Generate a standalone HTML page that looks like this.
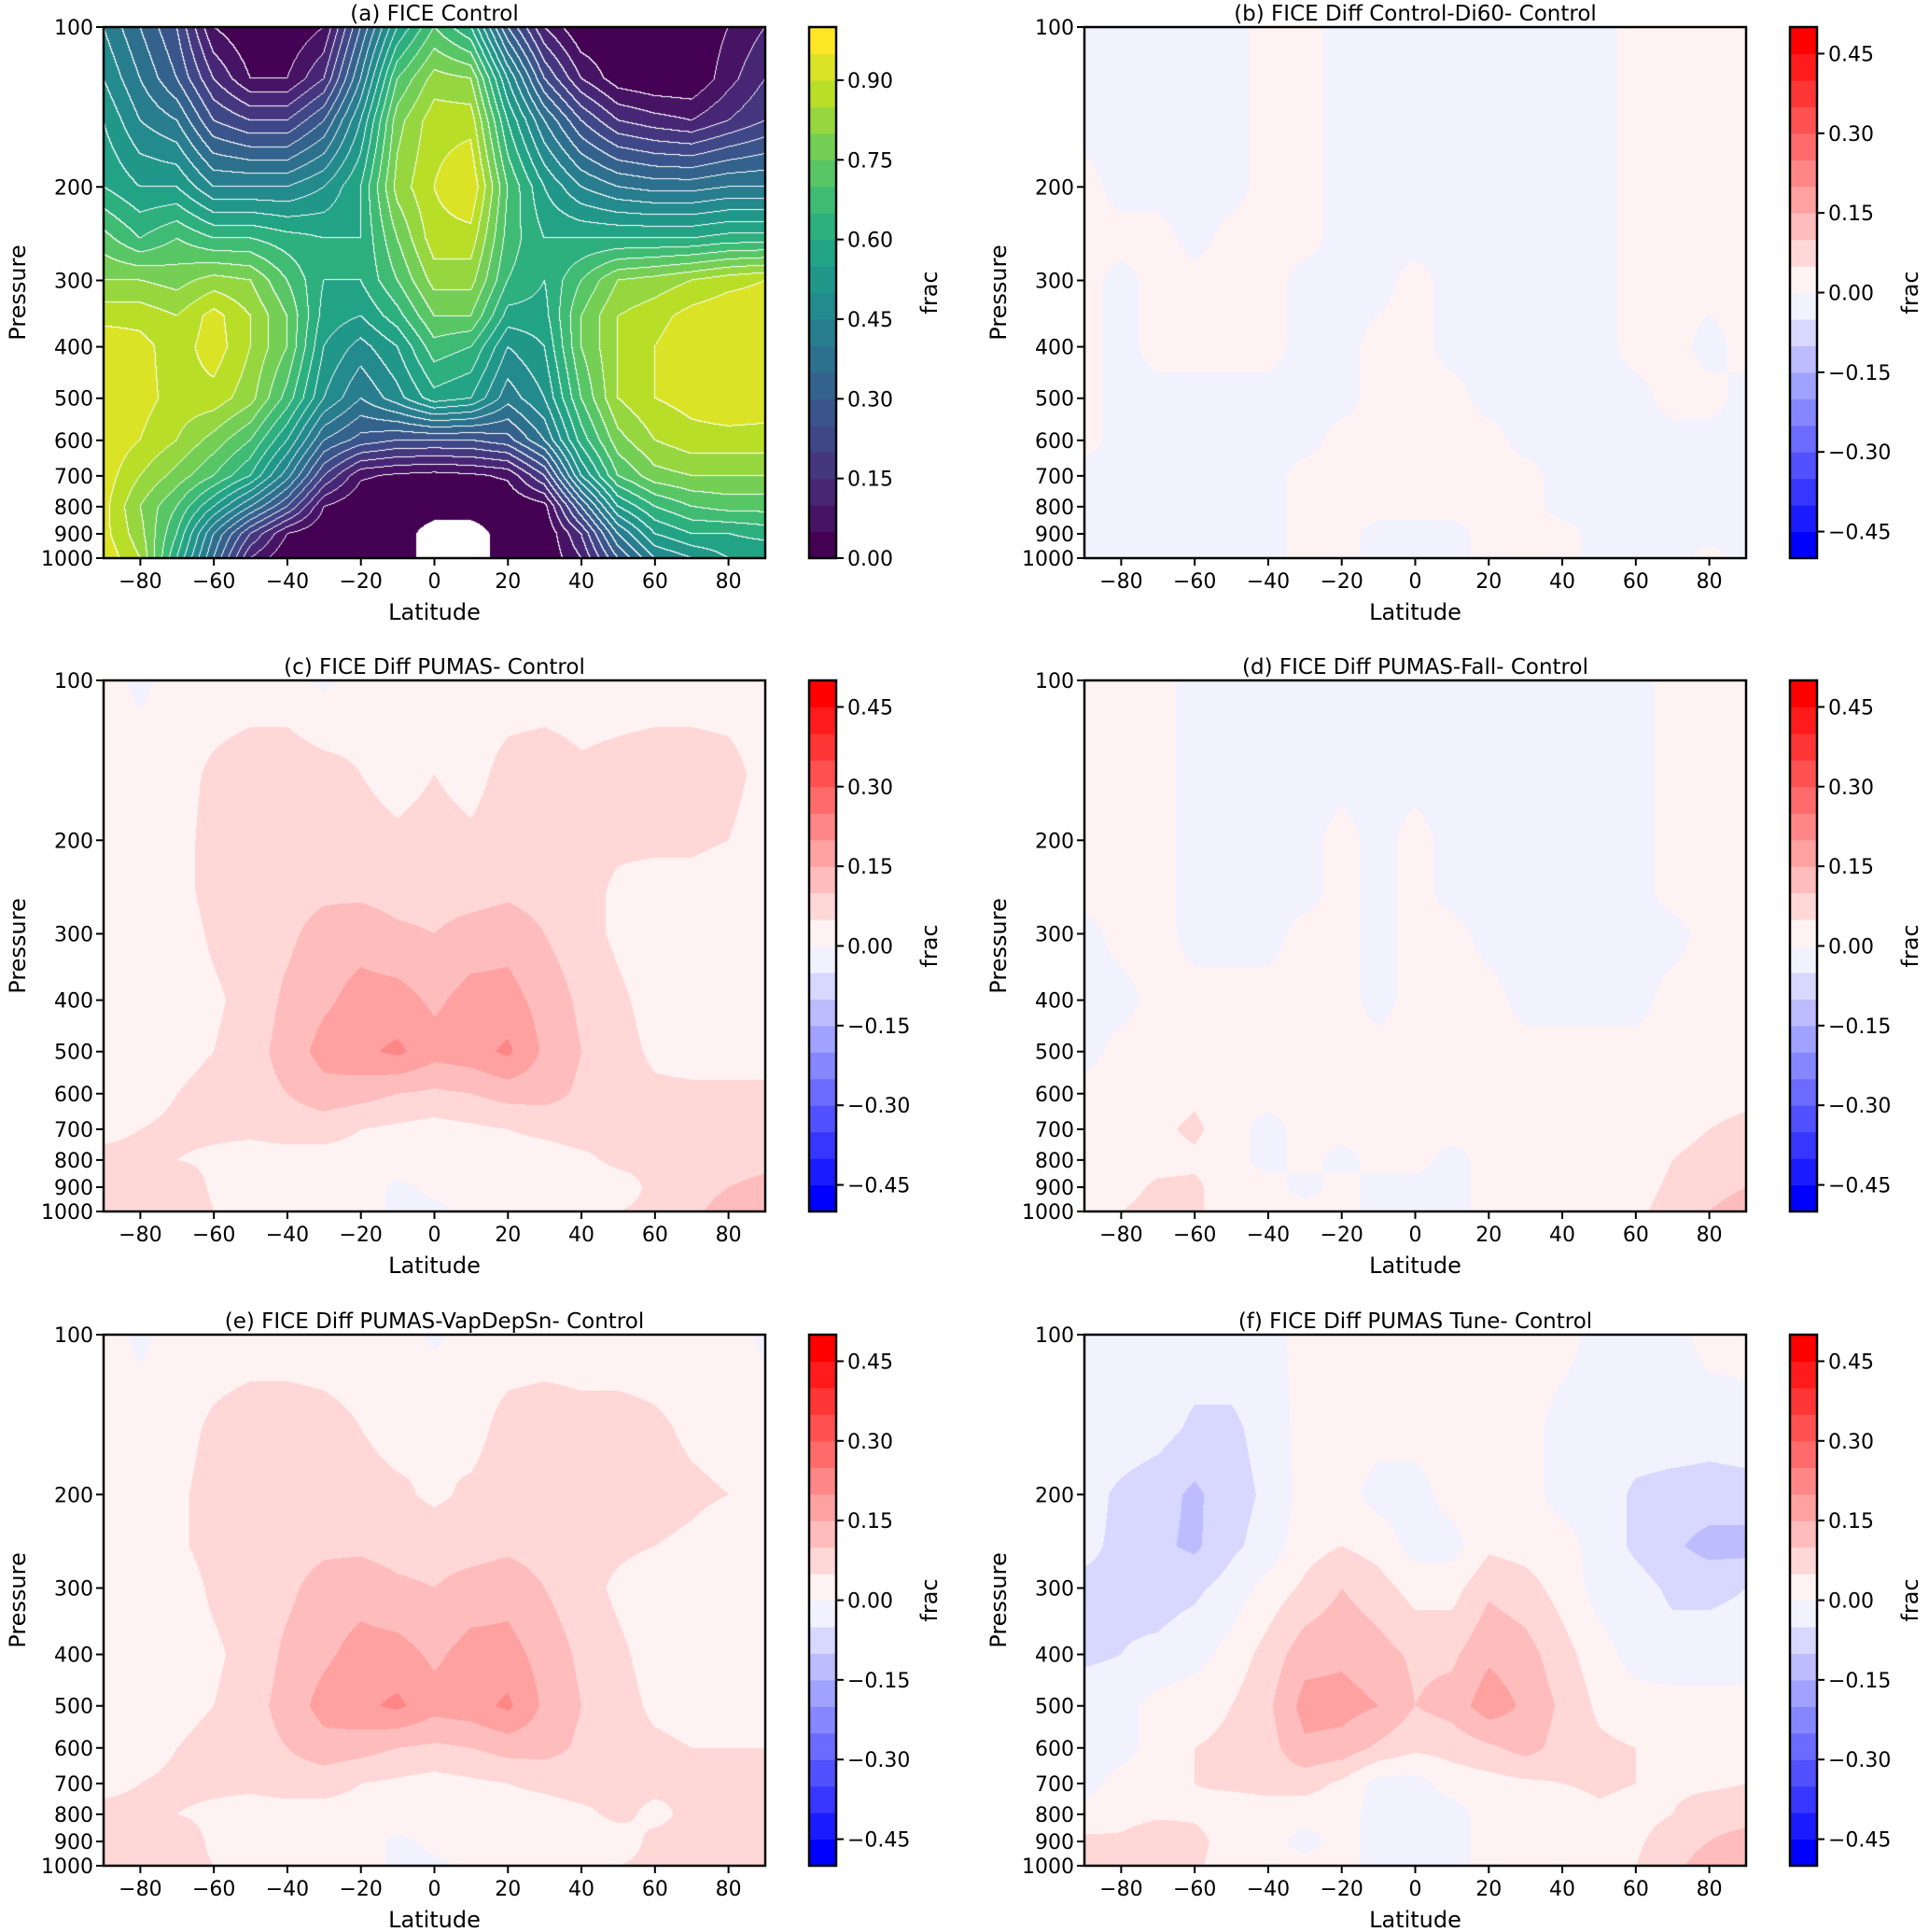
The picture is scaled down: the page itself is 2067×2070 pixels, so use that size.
<!DOCTYPE html>
<html><head><meta charset="utf-8">
<style>
body{margin:0;background:#fff;}
#fig{position:relative;width:2067px;height:2070px;overflow:hidden;background:#fff;font-family:"DejaVu Sans","Liberation Sans",sans-serif;}
canvas{position:absolute;}
svg{position:absolute;left:0;top:0;}
</style></head>
<body>
<div id="fig">
<svg id="ov" width="2067" height="2070"></svg>
</div>
<script>
// ---------- DATA ----------
const lats=[-90,-80,-70,-60,-50,-40,-30,-20,-10,0,10,20,30,40,50,60,70,80,90];
const aP=[100,125,150,200,250,300,350,400,500,600,700,800,900,1000];
const aVals=[
[.45,.35,.25,.05,0,0,.05,.3,.55,.7,.6,.3,.1,0,0,0,0,.05,.1],
[.5,.4,.3,.15,.05,.05,.15,.4,.7,.82,.8,.5,.25,.1,.02,0,0,.08,.15],
[.55,.45,.4,.25,.2,.2,.3,.5,.78,.88,.88,.6,.4,.25,.15,.12,.1,.15,.2],
[.6,.55,.55,.45,.45,.45,.5,.6,.82,.9,.95,.7,.55,.45,.4,.38,.38,.4,.4],
[.72,.65,.7,.65,.65,.62,.6,.6,.75,.88,.88,.68,.6,.6,.6,.6,.6,.62,.62],
[.8,.8,.78,.82,.8,.7,.6,.6,.7,.82,.82,.65,.6,.7,.8,.82,.85,.88,.9],
[.88,.88,.85,.92,.85,.75,.58,.55,.63,.75,.75,.58,.58,.75,.85,.88,.92,.94,.94],
[.94,.92,.87,.93,.85,.75,.55,.48,.55,.68,.65,.5,.55,.75,.85,.9,.94,.94,.94],
[.94,.92,.88,.88,.82,.68,.5,.4,.48,.58,.55,.42,.5,.7,.85,.9,.92,.94,.93],
[.94,.9,.85,.78,.7,.55,.35,.28,.25,.25,.25,.28,.4,.62,.78,.85,.88,.88,.88],
[.93,.85,.78,.7,.6,.42,.2,.06,.04,.03,.04,.06,.2,.5,.7,.78,.8,.8,.8],
[.92,.8,.7,.55,.4,.25,.05,0,0,0,0,0,.03,.3,.55,.65,.7,.72,.72],
[.92,.82,.65,.4,.2,.05,0,0,0,null,null,0,0,.15,.4,.55,.6,.6,.62],
[.94,.85,.6,.35,.1,0,0,0,0,null,null,0,0,.1,.3,.45,.5,.55,.55]];
const dP=[100,150,200,250,300,400,500,600,700,800,900,1000];
const bVals=[
[-.02,-.02,-.02,-.02,-.02,.02,.02,-.02,-.02,-.02,-.02,-.02,-.02,-.02,-.02,.02,.02,.02,.02],
[-.02,-.02,-.02,-.02,-.02,.02,.02,-.02,-.02,-.02,-.02,-.02,-.02,-.02,-.02,.02,.02,.02,.02],
[.02,-.02,-.02,-.02,-.02,.02,.02,-.02,-.02,-.02,-.02,-.02,-.02,-.02,-.02,.02,.02,.02,.02],
[.02,.02,.02,-.02,.02,.02,.02,-.02,-.02,-.02,-.02,-.02,-.02,-.02,-.02,.02,.02,.02,.02],
[.02,-.02,.02,.02,.02,.02,-.02,-.02,-.02,.02,-.02,-.02,-.02,-.02,-.02,.02,.02,.02,.02],
[.02,-.02,.02,.02,.02,.02,-.02,-.02,.02,.02,-.02,-.02,-.02,-.02,-.02,.02,.02,-.02,.02],
[.02,-.02,-.02,-.02,-.02,-.02,-.02,-.02,.02,.02,.02,-.02,-.02,-.02,-.02,-.02,.02,.02,-.02],
[.02,-.02,-.02,-.02,-.02,-.02,-.02,.02,.02,.02,.02,.02,-.02,-.02,-.02,-.02,-.02,-.02,-.02],
[-.02,-.02,-.02,-.02,-.02,-.02,.02,.02,.02,.02,.02,.02,.02,-.02,-.02,-.02,-.02,-.02,-.02],
[-.02,-.02,-.02,-.02,-.02,-.02,.02,.02,.02,.02,.02,.02,.02,-.02,-.02,-.02,-.02,-.02,-.02],
[-.02,-.02,-.02,-.02,-.02,-.02,.02,.02,-.02,-.02,-.02,.02,.02,.02,-.02,-.02,-.02,-.02,-.02],
[-.02,-.02,-.02,-.02,-.02,-.02,.02,.02,-.02,-.02,-.02,.02,.02,.02,-.02,-.02,-.02,.02,-.02]];
const cVals=[
[.02,-.01,.02,.02,.02,.02,-.01,.02,.02,.02,.02,.02,.02,.02,.02,.02,.02,.02,.02],
[.02,.02,.03,.06,.08,.08,.07,.05,.03,.05,.03,.07,.08,.06,.07,.08,.08,.07,.03],
[.02,.02,.03,.07,.08,.08,.08,.07,.06,.07,.06,.08,.08,.07,.06,.06,.06,.05,.02],
[.02,.02,.03,.07,.08,.08,.09,.09,.08,.08,.08,.09,.08,.07,.04,.03,.03,.02,.02],
[.02,.02,.02,.06,.08,.09,.12,.13,.11,.1,.12,.13,.1,.07,.04,.02,.02,.02,.02],
[.02,.02,.02,.04,.07,.11,.14,.17,.17,.14,.17,.17,.13,.09,.06,.03,.02,.02,.02],
[.02,.02,.03,.05,.08,.12,.17,.19,.21,.17,.18,.21,.14,.1,.07,.04,.03,.03,.03],
[.02,.03,.05,.07,.08,.1,.13,.12,.1,.09,.1,.12,.12,.09,.07,.06,.06,.06,.06],
[.04,.05,.06,.06,.06,.07,.07,.05,.04,.03,.04,.05,.06,.07,.06,.06,.06,.06,.06],
[.06,.06,.05,.04,.03,.03,.03,.03,.03,.03,.03,.03,.03,.04,.06,.06,.06,.07,.08],
[.06,.07,.09,.04,.02,.02,.02,.02,-.01,.01,.02,.02,.02,.02,.03,.06,.08,.1,.12],
[.07,.08,.1,.05,.02,.02,.02,.02,-.01,-.01,.01,.02,.02,.02,.05,.06,.09,.12,.14]];
const dVals=[
[.02,.02,.02,-.02,-.02,-.02,-.02,-.02,-.02,-.02,-.02,-.02,-.02,-.02,-.02,-.02,.02,.02,.02],
[.02,.02,.02,-.02,-.02,-.02,-.02,-.02,-.02,-.02,-.02,-.02,-.02,-.02,-.02,-.02,.02,.02,.02],
[.02,.02,.02,-.02,-.02,-.02,-.02,.02,-.02,.02,-.02,-.02,-.02,-.02,-.02,-.02,.02,.02,.02],
[.02,.02,.02,-.02,-.02,-.02,-.02,.02,-.02,.02,-.02,-.02,-.02,-.02,-.02,-.02,.02,.02,.02],
[-.02,.02,.02,-.02,-.02,-.02,.02,.02,-.02,.02,.02,-.02,-.02,-.02,-.02,-.02,-.02,.02,.02],
[-.02,-.02,.02,.02,.02,.02,.02,.02,-.02,.02,.02,.02,-.02,-.02,-.02,-.02,.02,.02,.02],
[-.02,.02,.02,.02,.02,.02,.02,.02,.02,.02,.02,.02,.02,.02,.02,.02,.02,.02,.02],
[.02,.02,.02,.04,.02,.02,.02,.02,.02,.02,.02,.02,.02,.02,.02,.02,.02,.02,.03],
[.02,.02,.04,.06,.02,-.02,.02,.02,.02,.02,.02,.02,.02,.02,.02,.02,.03,.05,.07],
[.02,.02,.03,.04,.02,-.02,.02,-.02,.02,.02,-.02,.02,.02,.02,.02,.02,.05,.07,.08],
[.04,.03,.06,.06,.02,.02,-.02,.02,-.02,-.02,-.02,.02,.02,.02,.02,.03,.06,.08,.1],
[.02,.05,.07,.06,.02,.02,.02,.02,-.02,-.02,-.02,.02,.02,.02,.02,.04,.07,.1,.13]];
const eVals=[
[.02,-.01,.02,.02,.02,.02,.02,.02,.02,-.01,.02,.02,.02,.02,.02,.02,.02,.02,-.01],
[.02,.02,.03,.06,.08,.08,.07,.05,.03,.05,.03,.07,.08,.07,.07,.06,.04,.03,.02],
[.02,.03,.04,.07,.08,.08,.08,.07,.06,.04,.06,.08,.08,.07,.07,.07,.06,.05,.02],
[.02,.02,.04,.07,.08,.08,.09,.09,.08,.08,.08,.09,.08,.07,.06,.05,.04,.02,.02],
[.02,.02,.02,.06,.08,.09,.12,.13,.11,.1,.12,.13,.1,.07,.04,.02,.02,.02,.02],
[.02,.02,.02,.04,.07,.11,.14,.17,.17,.14,.17,.17,.13,.09,.06,.03,.02,.02,.02],
[.02,.02,.03,.05,.08,.12,.17,.19,.21,.17,.18,.21,.14,.1,.07,.04,.03,.03,.03],
[.02,.03,.05,.07,.08,.1,.13,.12,.1,.09,.1,.12,.12,.09,.07,.06,.05,.05,.05],
[.04,.05,.06,.06,.06,.07,.07,.05,.04,.03,.04,.05,.06,.07,.06,.06,.05,.05,.05],
[.06,.06,.05,.04,.03,.03,.03,.03,.03,.03,.03,.03,.03,.04,.06,.04,.06,.06,.06],
[.06,.07,.08,.04,.02,.02,.02,.02,-.01,.01,.02,.02,.02,.02,.03,.06,.06,.07,.08],
[.07,.08,.07,.05,.02,.02,.02,.02,-.01,-.01,.01,.02,.02,.02,.05,.06,.07,.08,.1]];
const fVals=[
[-.02,-.02,-.02,-.02,-.02,-.02,.02,.02,.02,.02,.02,.02,.02,.02,-.02,-.02,-.02,.02,.02],
[-.02,-.02,-.03,-.06,-.06,-.03,.02,.02,.02,.02,.02,.02,.02,-.02,-.02,-.02,-.02,-.03,-.02],
[-.03,-.06,-.08,-.11,-.07,-.04,.02,.02,-.02,-.02,.02,.02,.02,-.02,-.02,-.06,-.07,-.07,-.07],
[-.04,-.06,-.09,-.11,-.06,-.03,.03,.05,.03,-.02,-.02,.04,.03,.02,-.02,-.06,-.09,-.12,-.12],
[-.06,-.06,-.07,-.06,-.03,.02,.06,.1,.07,.03,.03,.09,.07,.03,-.02,-.03,-.06,-.06,-.05],
[-.06,-.05,-.04,-.02,.02,.07,.13,.14,.12,.09,.09,.14,.12,.07,.02,-.02,-.03,-.03,-.03],
[-.02,-.02,.02,.03,.05,.09,.17,.17,.15,.1,.12,.18,.14,.09,.04,.02,.02,.02,.02],
[-.02,-.02,.02,.05,.06,.08,.14,.13,.09,.06,.07,.09,.12,.08,.06,.05,.04,.04,.05],
[-.02,.02,.03,.05,.06,.07,.07,.04,-.02,-.02,.02,.03,.04,.05,.06,.05,.04,.04,.05],
[.02,.03,.04,.04,.02,.02,.02,.02,-.02,-.02,-.02,.02,.02,.02,.04,.03,.05,.08,.08],
[.06,.06,.09,.07,.02,.02,-.02,.02,-.02,-.02,-.02,.02,.02,.02,.03,.04,.08,.1,.12],
[.05,.06,.1,.06,.02,.02,.02,.02,-.02,-.02,-.02,.02,.02,.02,.03,.05,.09,.12,.14]];
const xTicks=[-80,-60,-40,-20,0,20,40,60,80];
const yTicks=[100,200,300,400,500,600,700,800,900,1000];
const aCbTicks=[0,0.15,0.30,0.45,0.60,0.75,0.90];
const dCbTicks=[-0.45,-0.30,-0.15,0,0.15,0.30,0.45];

// ---------- LAYOUT ----------
const colX=[111,1162], cbX=[867,1918], rowY=[29,729,1430], PW=709, PH=569, CBW=29;
const panels=[
 {id:'a',title:'(a) FICE Control',P:aP,V:aVals,type:'seq'},
 {id:'b',title:'(b) FICE Diff Control-Di60- Control',P:dP,V:bVals,type:'div'},
 {id:'c',title:'(c) FICE Diff PUMAS- Control',P:dP,V:cVals,type:'div'},
 {id:'d',title:'(d) FICE Diff PUMAS-Fall- Control',P:dP,V:dVals,type:'div'},
 {id:'e',title:'(e) FICE Diff PUMAS-VapDepSn- Control',P:dP,V:eVals,type:'div'},
 {id:'f',title:'(f)  FICE Diff PUMAS Tune- Control',P:dP,V:fVals,type:'div'}];

const vir=[[68,1,84],[72,36,117],[65,68,135],[53,95,141],[42,120,142],[33,145,140],[34,168,132],[68,191,112],[122,209,81],[189,223,38],[253,231,37]];
function viridis(t){t=Math.max(0,Math.min(1,t));const s=t*10,i=Math.min(9,Math.floor(s)),f=s-i;return vir[i].map((c,k)=>Math.round(c+(vir[i+1][k]-c)*f));}
function bwr(t){if(t<0.5){const g=Math.round(255*t*2);return [g,g,255];}const g=Math.round(255*(1-t)*2);return [255,g,g];}
function bandColor(type,i){return type==='seq'?viridis(i/19):bwr(i/19);}
function bandOf(type,v){let i=type==='seq'?Math.floor(v/0.05+1e-4):Math.floor((v+0.5)/0.05+1e-4);return Math.max(0,Math.min(19,i));}
const xs=lat=>(lat+90)/180*PW;
const ys=p=>Math.log10(p/100)*PH;

const fig=document.getElementById('fig'), ov=document.getElementById('ov');
const NS='http://www.w3.org/2000/svg';
function S(tag,attrs,parent){const e=document.createElementNS(NS,tag);for(const k in attrs)e.setAttribute(k,attrs[k]);(parent||ov).appendChild(e);return e;}
function fmt(v){const s=Math.abs(v).toFixed(2);return (v<0?'\u2212':'')+s;}

panels.forEach((pn,k)=>{
 const X0=colX[k%2], Y0=rowY[Math.floor(k/2)], CX=cbX[k%2];
 const cv=document.createElement('canvas');cv.width=PW;cv.height=PH;
 cv.style.left=X0+'px';cv.style.top=Y0+'px';
 
 
 fig.insertBefore(cv,ov);
 const ctx=cv.getContext('2d'),img=ctx.createImageData(PW,PH);
 const rowYs=pn.P.map(ys), colXs=lats.map(xs);
 const L=new Int16Array(PW*PH);
 for(let y=0;y<PH;y++){
  const yy=y+0.5;let j=0;while(j<rowYs.length-2&&rowYs[j+1]<yy)j++;
  const fy=Math.max(0,Math.min(1,(yy-rowYs[j])/(rowYs[j+1]-rowYs[j])));
  for(let x=0;x<PW;x++){
   const xx=x+0.5;let i=Math.min(17,Math.floor(xx/(PW/18)));
   const fx=(xx-colXs[i])/(colXs[i+1]-colXs[i]);
   const g=(r,c)=>{const v=pn.V[r][c];return v===null?-1:v;};
   const v=(g(j,i)*(1-fx)+g(j,i+1)*fx)*(1-fy)+(g(j+1,i)*(1-fx)+g(j+1,i+1)*fx)*fy;
   L[y*PW+x]=(pn.type==='seq'&&v<-0.5)?-1:bandOf(pn.type,v);
  }
 }
 for(let y=0;y<PH;y++)for(let x=0;x<PW;x++){
  const l=L[y*PW+x];let c;
  if(l<0)c=[255,255,255];
  else{c=bandColor(pn.type,l);
   if(pn.type==='seq'){const r=x<PW-1?L[y*PW+x+1]:l,d=y<PH-1?L[(y+1)*PW+x]:l;
    if((r!==l&&r>=0)||(d!==l&&d>=0))c=[255,255,255];}}
  const o=(y*PW+x)*4;img.data[o]=c[0];img.data[o+1]=c[1];img.data[o+2]=c[2];img.data[o+3]=255;
 }
 ctx.putImageData(img,0,0);
 const fr=S('rect',{x:X0,y:Y0,width:PW,height:PH,fill:'none',stroke:'#000','stroke-width':2.5});
 
 const t=S('text',{x:X0+PW/2,y:Y0-7,'text-anchor':'middle','font-size':23});t.textContent=pn.title;
 
 xTicks.forEach(v=>{const x=X0+xs(v);
  const l=S('line',{x1:x,x2:x,y1:Y0+PH,y2:Y0+PH+8,stroke:'#000','stroke-width':2});
  
  const tx=S('text',{x:x,y:Y0+PH+32,'text-anchor':'middle','font-size':22});tx.textContent=fmt(v).replace('.00','');
  });
 yTicks.forEach(v=>{const y=Y0+ys(v);
  const l=S('line',{x1:X0-8,x2:X0,y1:y,y2:y,stroke:'#000','stroke-width':2});
  
  const tx=S('text',{x:X0-11,y:y+8,'text-anchor':'end','font-size':22});tx.textContent=v;
  });
 const xl=S('text',{x:X0+PW/2,y:Y0+PH+66,'text-anchor':'middle','font-size':24});xl.textContent='Latitude';
 
 const yl=S('text',{x:0,y:0,'text-anchor':'middle','font-size':24,transform:`translate(${X0-84},${Y0+PH/2}) rotate(-90)`});yl.textContent='Pressure';
 
 for(let i=0;i<20;i++){const c=bandColor(pn.type,i);
  const r=S('rect',{x:CX,y:Y0+PH-(i+1)*PH/20,width:CBW,height:PH/20+0.6,fill:`rgb(${c})`});
  }
 const cf=S('rect',{x:CX,y:Y0,width:CBW,height:PH,fill:'none',stroke:'#000','stroke-width':2.5});
 
 const ticks=pn.type==='seq'?aCbTicks:dCbTicks;
 ticks.forEach(v=>{const fr=pn.type==='seq'?v:(v+0.5);const y=Y0+PH-fr*PH;
  const l=S('line',{x1:CX+CBW,x2:CX+CBW+8,y1:y,y2:y,stroke:'#000','stroke-width':2});
  
  const tx=S('text',{x:CX+CBW+12,y:y+8,'font-size':22});tx.textContent=fmt(v);
  });
 const cl=S('text',{x:0,y:0,'text-anchor':'middle','font-size':24,transform:`translate(${CX+CBW+108},${Y0+PH/2}) rotate(-90)`});cl.textContent='frac';
 
});
</script>
</body></html>
